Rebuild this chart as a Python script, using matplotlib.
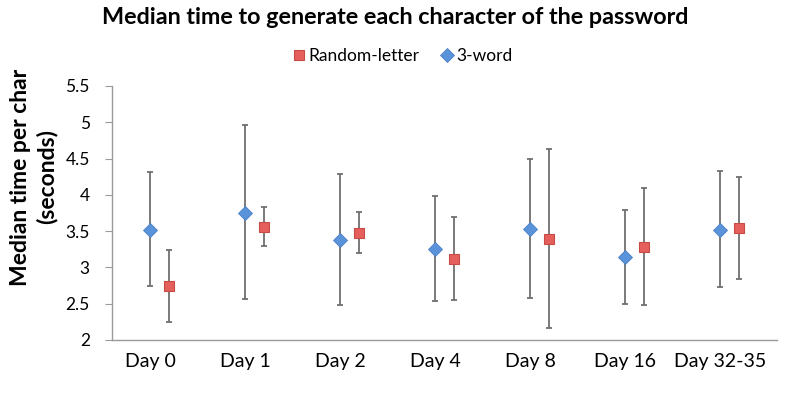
import matplotlib
matplotlib.use("Agg")
import matplotlib.pyplot as plt
import numpy as np

categories = ["Day 0", "Day 1", "Day 2", "Day 4", "Day 8", "Day 16", "Day 32-35"]
word_med = [3.52, 3.75, 3.38, 3.26, 3.53, 3.14, 3.52]
word_hi = [4.32, 4.96, 4.29, 3.99, 4.49, 3.79, 4.33]
word_lo = [2.74, 2.57, 2.48, 2.54, 2.58, 2.50, 2.73]
rand_med = [2.74, 3.56, 3.47, 3.12, 3.39, 3.28, 3.54]
rand_hi = [3.24, 3.83, 3.76, 3.70, 4.63, 4.09, 4.24]
rand_lo = [2.25, 3.29, 3.20, 2.55, 2.16, 2.48, 2.84]
yticks = [2, 2.5, 3, 3.5, 4, 4.5, 5, 5.5]

plt.rcParams['font.family'] = ['Lato', 'DejaVu Sans']

fig = plt.figure(figsize=(7.89, 3.93), dpi=100)
ax = fig.add_axes([112/789, 1-340/393, (777-112)/789, (340-86)/393])

x = np.arange(len(categories))
off = 0.1
wm = np.array(word_med); rm = np.array(rand_med)
ax.errorbar(x - off, wm, yerr=[wm - np.array(word_lo), np.array(word_hi) - wm],
            fmt='none', ecolor='#6f6f6f', elinewidth=1.3, capsize=2.5, capthick=1.3, zorder=2)
ax.errorbar(x + off, rm, yerr=[rm - np.array(rand_lo), np.array(rand_hi) - rm],
            fmt='none', ecolor='#6f6f6f', elinewidth=1.3, capsize=2.5, capthick=1.3, zorder=2)
ax.plot(x + off, rm, linestyle='none', marker='s', markersize=7.6,
        markerfacecolor='#e5605c', markeredgecolor='#c84a45', markeredgewidth=0.8,
        label='Random-letter', zorder=3)
ax.plot(x - off, wm, linestyle='none', marker='D', markersize=7,
        markerfacecolor='#5b93db', markeredgecolor='#4a7fc4', markeredgewidth=0.6,
        label='3-word', zorder=3)

ax.set_xlim(-0.5, len(categories) - 0.5)
ax.set_ylim(2, 5.5)
ax.set_yticks(yticks)
ax.set_yticklabels([f"{t:g}" for t in yticks], fontsize=12.5)
# category labels sit slightly left of the category centre in the original
ax.set_xticks(x - 0.095)
ax.set_xticklabels(categories, fontsize=14)
ax.tick_params(axis='x', length=0, pad=9)
ax.tick_params(axis='y', length=5, color='#9a9a9a', pad=11)
for s in ['top', 'right']:
    ax.spines[s].set_visible(False)
for s in ['left', 'bottom']:
    ax.spines[s].set_color('#9a9a9a')
    ax.spines[s].set_linewidth(1.0)

fig.text(34/789, 1-177/393, "Median time per char\n(seconds)", fontsize=16.5, fontweight='bold',
         rotation=90, ha='center', va='center', multialignment='center', linespacing=1.25)
fig.text(395/789, 1-18/393, "Median time to generate each character of the password",
         ha='center', va='center', fontsize=16.8, fontweight='bold')
leg = fig.legend(loc='center', bbox_to_anchor=(397/789, 1-56/393), ncol=2, frameon=False,
                 fontsize=12.5, handletextpad=-0.45, columnspacing=0.57, markerscale=1.0)
fig.savefig("out.png", dpi=100)
